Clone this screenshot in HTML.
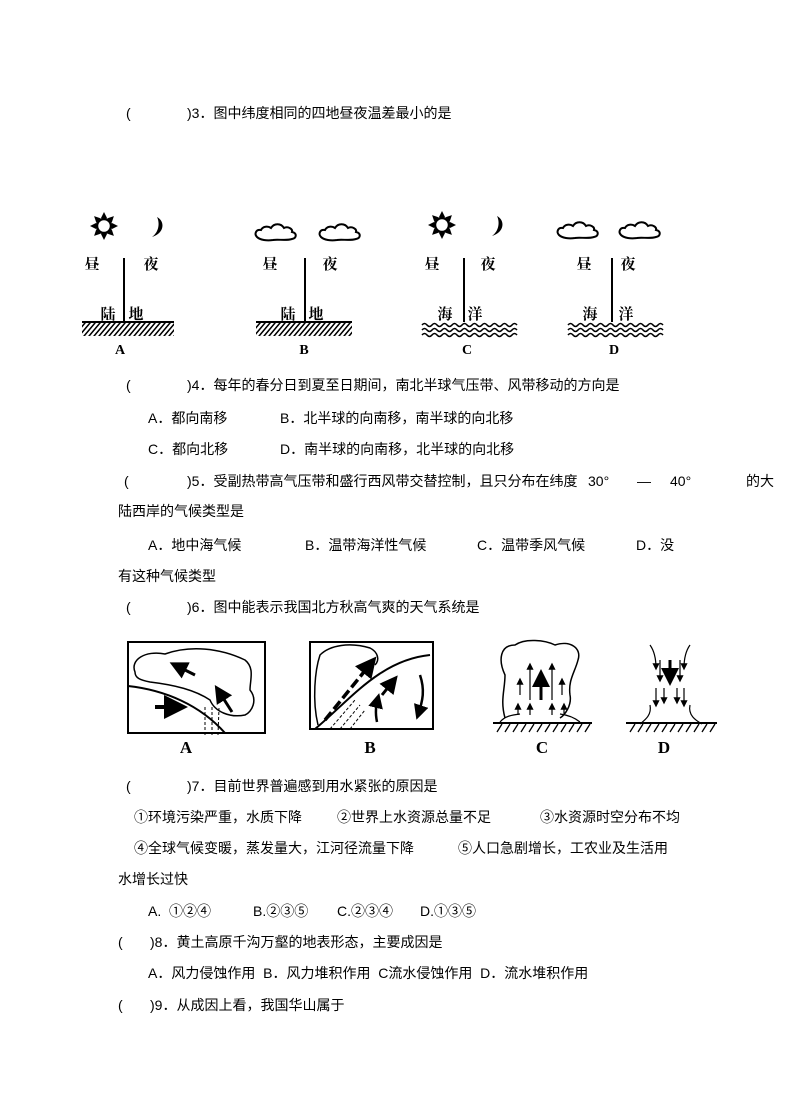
<!DOCTYPE html>
<html><head><meta charset="utf-8"><style>
html,body{margin:0;padding:0;background:#fff;}
body{width:790px;height:1119px;position:relative;overflow:hidden;font-family:"Liberation Serif","Noto Serif CJK SC","Noto Sans CJK SC",serif;color:#000;}
.t{position:absolute;font-size:14px;line-height:16px;white-space:pre;font-family:"Liberation Sans","Noto Sans CJK SC",sans-serif;}
svg{position:absolute;left:0;top:0;}
.lb{font-family:"Liberation Serif","Noto Serif CJK SC",serif;font-size:15px;font-weight:bold;}
</style></head><body>

<div class="t" style="left:126px;top:105px">(</div><div class="t" style="left:187px;top:105px">)3．图中纬度相同的四地昼夜温差最小的是</div>

<div class="t" style="left:126px;top:377px">(</div><div class="t" style="left:187px;top:377px">)4．每年的春分日到夏至日期间，南北半球气压带、风带移动的方向是</div>
<div class="t" style="left:148px;top:410px">A．都向南移</div><div class="t" style="left:280px;top:410px">B．北半球的向南移，南半球的向北移</div>
<div class="t" style="left:148px;top:441px">C．都向北移</div><div class="t" style="left:280px;top:441px">D．南半球的向南移，北半球的向北移</div>

<div class="t" style="left:124px;top:473px">(</div><div class="t" style="left:187px;top:473px">)5．受副热带高气压带和盛行西风带交替控制，且只分布在纬度</div><div class="t" style="left:588px;top:473px">30°</div><div class="t" style="left:637px;top:473px">—</div><div class="t" style="left:670px;top:473px">40°</div><div class="t" style="left:746px;top:473px">的大</div>
<div class="t" style="left:118px;top:503px">陆西岸的气候类型是</div>
<div class="t" style="left:148px;top:537px">A．地中海气候</div><div class="t" style="left:305px;top:537px">B．温带海洋性气候</div><div class="t" style="left:477px;top:537px">C．温带季风气候</div><div class="t" style="left:636px;top:537px">D．没</div>
<div class="t" style="left:118px;top:568px">有这种气候类型</div>

<div class="t" style="left:126px;top:599px">(</div><div class="t" style="left:187px;top:599px">)6．图中能表示我国北方秋高气爽的天气系统是</div>

<div class="t" style="left:126px;top:778px">(</div><div class="t" style="left:187px;top:778px">)7．目前世界普遍感到用水紧张的原因是</div>
<div class="t" style="left:134px;top:809px">①环境污染严重，水质下降</div><div class="t" style="left:337px;top:809px">②世界上水资源总量不足</div><div class="t" style="left:540px;top:809px">③水资源时空分布不均</div>
<div class="t" style="left:134px;top:840px">④全球气候变暖，蒸发量大，江河径流量下降</div><div class="t" style="left:458px;top:840px">⑤人口急剧增长，工农业及生活用</div>
<div class="t" style="left:118px;top:871px">水增长过快</div>
<div class="t" style="left:148px;top:903px">A.  ①②④</div><div class="t" style="left:253px;top:903px">B.②③⑤</div><div class="t" style="left:337px;top:903px">C.②③④</div><div class="t" style="left:420px;top:903px">D.①③⑤</div>
<div class="t" style="left:118px;top:934px">(</div><div class="t" style="left:150px;top:934px">)8．黄土高原千沟万壑的地表形态，主要成因是</div>
<div class="t" style="left:148px;top:965px">A．风力侵蚀作用  B．风力堆积作用  C流水侵蚀作用  D．流水堆积作用</div>
<div class="t" style="left:118px;top:997px">(</div><div class="t" style="left:150px;top:997px">)9．从成因上看，我国华山属于</div>

<svg width="790" height="1119" viewBox="0 0 790 1119">
<defs>
<g id="sun"><circle r="7" fill="none" stroke="#000" stroke-width="2.5"/>
<g fill="#000"><path d="M-3,-8 L0,-14 L3,-8Z"/><path d="M-3,-8 L0,-14 L3,-8Z" transform="rotate(45)"/><path d="M-3,-8 L0,-14 L3,-8Z" transform="rotate(90)"/><path d="M-3,-8 L0,-14 L3,-8Z" transform="rotate(135)"/><path d="M-3,-8 L0,-14 L3,-8Z" transform="rotate(180)"/><path d="M-3,-8 L0,-14 L3,-8Z" transform="rotate(225)"/><path d="M-3,-8 L0,-14 L3,-8Z" transform="rotate(270)"/><path d="M-3,-8 L0,-14 L3,-8Z" transform="rotate(315)"/></g></g>
<path id="moon" d="M0,-10 C8,-6 8,6 -5,10 C2,5 3,-4 0,-10Z" fill="#000"/>
<path id="cloud" d="M-19,5 C-22,2 -20,-3 -15,-2 C-13,-6 -8,-6 -5,-4 C-2,-9 5,-9 8,-4 C12,-6 17,-3 16,0 C21,1 21,6 16,7 C10,9 2,7 -3,8 C-9,9 -16,8 -19,5Z" fill="none" stroke="#000" stroke-width="2"/>
<pattern id="hatch" width="5" height="14" patternUnits="userSpaceOnUse" patternTransform="skewX(-40)"><line x1="1" y1="0" x2="1" y2="14" stroke="#000" stroke-width="2"/></pattern>
<path id="wave" d="M0,0 q2.5,-3 5,0 t5,0 t5,0 t5,0 t5,0 t5,0 t5,0 t5,0 t5,0 t5,0 t5,0 t5,0 t5,0 t5,0 t5,0 t5,0 t5,0 t5,0 t5,0" fill="none" stroke="#000" stroke-width="1.6"/>
<marker id="ah" markerWidth="6" markerHeight="6" refX="4" refY="3" orient="auto"><path d="M0,0 L6,3 L0,6Z" fill="#000"/></marker>
</defs>

<!-- Diagram 1 -->
<g font-family="Liberation Serif,Noto Serif CJK SC,serif" font-size="15" font-weight="bold" text-anchor="middle">
<!-- A -->
<use href="#sun" x="104" y="226"/><use href="#moon" x="157" y="227"/>
<text x="92" y="269">昼</text><text x="151" y="269">夜</text>
<line x1="124" y1="258" x2="124" y2="322" stroke="#000" stroke-width="2"/>
<text x="108" y="319">陆</text><text x="136" y="319">地</text>
<line x1="82" y1="322" x2="174" y2="322" stroke="#000" stroke-width="2"/>
<rect x="82" y="323" width="92" height="13" fill="url(#hatch)"/>
<text x="120" y="354" font-size="14">A</text>
<!-- B -->
<use href="#cloud" x="276" y="232"/><use href="#cloud" x="340" y="232"/>
<text x="270" y="269">昼</text><text x="330" y="269">夜</text>
<line x1="305" y1="258" x2="305" y2="322" stroke="#000" stroke-width="2"/>
<text x="288" y="319">陆</text><text x="316" y="319">地</text>
<line x1="256" y1="322" x2="352" y2="322" stroke="#000" stroke-width="2"/>
<rect x="256" y="323" width="96" height="13" fill="url(#hatch)"/>
<text x="304" y="354" font-size="14">B</text>
<!-- C -->
<use href="#sun" x="442" y="225"/><use href="#moon" x="497" y="226"/>
<text x="432" y="269">昼</text><text x="488" y="269">夜</text>
<line x1="464" y1="258" x2="464" y2="322" stroke="#000" stroke-width="2"/>
<text x="445" y="319">海</text><text x="475" y="319">洋</text>
<use href="#wave" x="422" y="325"/><use href="#wave" x="422" y="330"/><use href="#wave" x="422" y="335"/>
<text x="467" y="354" font-size="14">C</text>
<!-- D -->
<use href="#cloud" x="578" y="230"/><use href="#cloud" x="640" y="230"/>
<text x="584" y="269">昼</text><text x="628" y="269">夜</text>
<line x1="612" y1="258" x2="612" y2="322" stroke="#000" stroke-width="2"/>
<text x="590" y="319">海</text><text x="626" y="319">洋</text>
<use href="#wave" x="568" y="325"/><use href="#wave" x="568" y="330"/><use href="#wave" x="568" y="335"/>
<text x="614" y="354" font-size="14">D</text>
</g>

<!-- Diagram 2 -->
<g fill="none" stroke="#000" stroke-width="2">
<!-- A -->
<rect x="128" y="642" width="137" height="91"/>
<path d="M128,686 C165,690 200,705 225,733"/>
<path d="M135,672 C130,660 145,650 165,654 C190,645 220,648 245,660 C255,668 250,680 250,690 C258,700 252,712 245,715 C230,718 215,712 210,700 C195,690 175,685 150,682 C140,680 135,678 135,672Z" stroke-width="1.5"/>
<path d="M205,735 L205,705 M212,735 L212,705 M218,735 L219,708" stroke-dasharray="3,2" stroke-width="1"/>
<line x1="155" y1="707" x2="180" y2="707" stroke-width="4" marker-end="url(#ah)"/>
<line x1="195" y1="675" x2="175" y2="665" stroke-width="3" marker-end="url(#ah)"/>
<line x1="232" y1="712" x2="218" y2="690" stroke-width="3" marker-end="url(#ah)"/>
<!-- B -->
<rect x="310" y="642" width="123" height="87"/>
<path d="M315,729 C350,700 380,660 430,655"/>
<path d="M318,725 C312,700 315,670 320,655 C330,645 350,642 370,648 C378,652 380,660 375,665" stroke-width="1.5"/>
<path d="M330,729 L355,700 M340,729 L360,705 M350,729 L365,710" stroke-width="1" stroke-dasharray="3,2"/>
<line x1="325" y1="720" x2="372" y2="662" stroke-width="3.5" stroke-dasharray="10,4" marker-end="url(#ah)"/>
<line x1="382" y1="695" x2="394" y2="680" stroke-width="3" marker-end="url(#ah)"/>
<path d="M420,675 C425,690 423,700 418,715" stroke-width="2.5" marker-end="url(#ah)"/>
<path d="M377,722 C375,712 376,706 378,698" stroke-width="2.5" marker-end="url(#ah)"/>
<!-- C -->
<path d="M505,718 C500,700 505,690 505,675 C498,660 500,645 515,645 C525,638 545,640 555,645 C570,640 582,648 578,660 C575,672 568,680 570,695 C572,705 565,715 560,718" stroke-width="1.5"/>
<path d="M500,722 C505,716 512,715 520,714 M560,714 C568,715 575,718 580,722" stroke-width="1.2"/>
<line x1="493" y1="723" x2="592" y2="723"/>
<path d="M497,732 L502,724 M505,732 L510,724 M513,732 L518,724 M521,732 L526,724 M529,732 L534,724 M537,732 L542,724 M545,732 L550,724 M553,732 L558,724 M561,732 L566,724 M569,732 L574,724 M577,732 L582,724 M585,732 L590,724" stroke-width="1.3"/>
<g stroke-width="1.2" marker-end="url(#ah)">
<line x1="520" y1="695" x2="520" y2="680"/><line x1="530" y1="700" x2="530" y2="665"/><line x1="552" y1="700" x2="552" y2="665"/><line x1="562" y1="695" x2="562" y2="680"/>
<line x1="518" y1="715" x2="518" y2="705"/><line x1="530" y1="715" x2="530" y2="705"/><line x1="552" y1="715" x2="552" y2="705"/><line x1="564" y1="715" x2="564" y2="705"/>
</g>
<line x1="541" y1="700" x2="541" y2="675" stroke-width="3" marker-end="url(#ah)"/>
<!-- D -->
<line x1="626" y1="723" x2="717" y2="723"/>
<path d="M630,732 L635,724 M638,732 L643,724 M646,732 L651,724 M654,732 L659,724 M662,732 L667,724 M670,732 L675,724 M678,732 L683,724 M686,732 L691,724 M694,732 L699,724 M702,732 L707,724 M710,732 L715,724" stroke-width="1.3"/>
<g stroke-width="1.2" marker-end="url(#ah)">
<path d="M650,645 C655,652 656,660 656,668"/><path d="M690,645 C685,652 684,660 684,668"/>
<line x1="660" y1="660" x2="660" y2="680"/><line x1="680" y1="660" x2="680" y2="680"/>
<line x1="656" y1="688" x2="656" y2="705"/><line x1="664" y1="688" x2="664" y2="702"/><line x1="684" y1="688" x2="684" y2="705"/><line x1="677" y1="688" x2="677" y2="702"/>
</g>
<line x1="670" y1="660" x2="670" y2="680" stroke-width="3" marker-end="url(#ah)"/>
<path d="M650,705 C652,715 645,720 640,724 M690,705 C688,715 695,720 702,724" stroke-width="1.2"/>
</g>
<g font-family="Liberation Serif,Noto Serif CJK SC,serif" font-size="17" font-weight="bold" text-anchor="middle">
<text x="186" y="753">A</text><text x="370" y="753">B</text><text x="542" y="753">C</text><text x="664" y="753">D</text>
</g>
</svg>
</body></html>
